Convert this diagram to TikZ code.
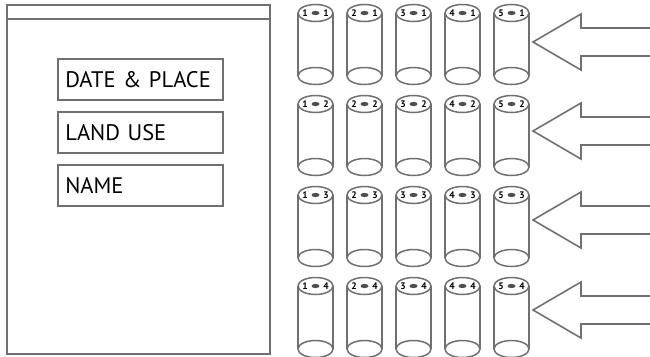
\documentclass[tikz,border=0pt]{standalone}
\usepackage{fontspec}
\setmainfont{PT Sans}
\definecolor{ln}{RGB}{112,112,112}
\definecolor{tx}{RGB}{0,0,0}
\begin{document}
\begin{tikzpicture}[x=1pt,y=-1pt,
  outline/.style={draw=ln, line width=1.6pt},
  field/.style={draw=ln, line width=1.6pt, minimum height=41pt, text width=150pt,
    inner xsep=7.5pt, inner ysep=0pt, align=left, anchor=north west, text=tx,
    font=\fontsize{22.5}{24}\selectfont},
  cyl/.style={draw=ln, line width=1.5pt},
  digit/.style={inner sep=0pt, text=tx, font=\fontsize{9.5}{10}\selectfont\bfseries},
  arrowshape/.style={draw=ln, line width=1.6pt, line join=miter}]
\useasboundingbox (0,0) rectangle (650,356);
% form
\draw[outline] (7,5) rectangle (270,354);
\draw[outline] (7,19) -- (270,19);
\node[field] (date) at (57,58) {DATE \& PLACE};
\node[field] (land) at (57,111) {LAND USE};
\node[field] (name) at (57,164) {NAME};
% cylinders
\foreach \r [count=\j] in {13,104,195,286} {
  \foreach \c in {1,...,5} {
    \pgfmathsetmacro{\cx}{315.5+49*(\c-1)}
    \pgfmathsetmacro{\rb}{\r+63}
    \draw[cyl] (\cx-17.5,\r) -- (\cx-17.5,\rb);
    \draw[cyl] (\cx+17.5,\r) -- (\cx+17.5,\rb);
    \draw[cyl, fill=white] (\cx,\r) ellipse [x radius=17.5, y radius=8.5];
    \draw[cyl] (\cx,\rb) ellipse [x radius=17.5, y radius=8.5];
    \fill[ln!70!black] (\cx,\r) ellipse [x radius=4, y radius=2.1];
    \node[digit] (l\c-\j) at (\cx-10.5,\r) {\c};
    \node[digit] (r\c-\j) at (\cx+10.5,\r) {\j};
  }
}
% arrows
\foreach \a in {42,131,220,310} {
  \draw[arrowshape] (653,\a-14) -- (581,\a-14) -- (581,\a-28) -- (533,\a)
    -- (581,\a+28) -- (581,\a+14) -- (653,\a+14);
}
\end{tikzpicture}
\end{document}
